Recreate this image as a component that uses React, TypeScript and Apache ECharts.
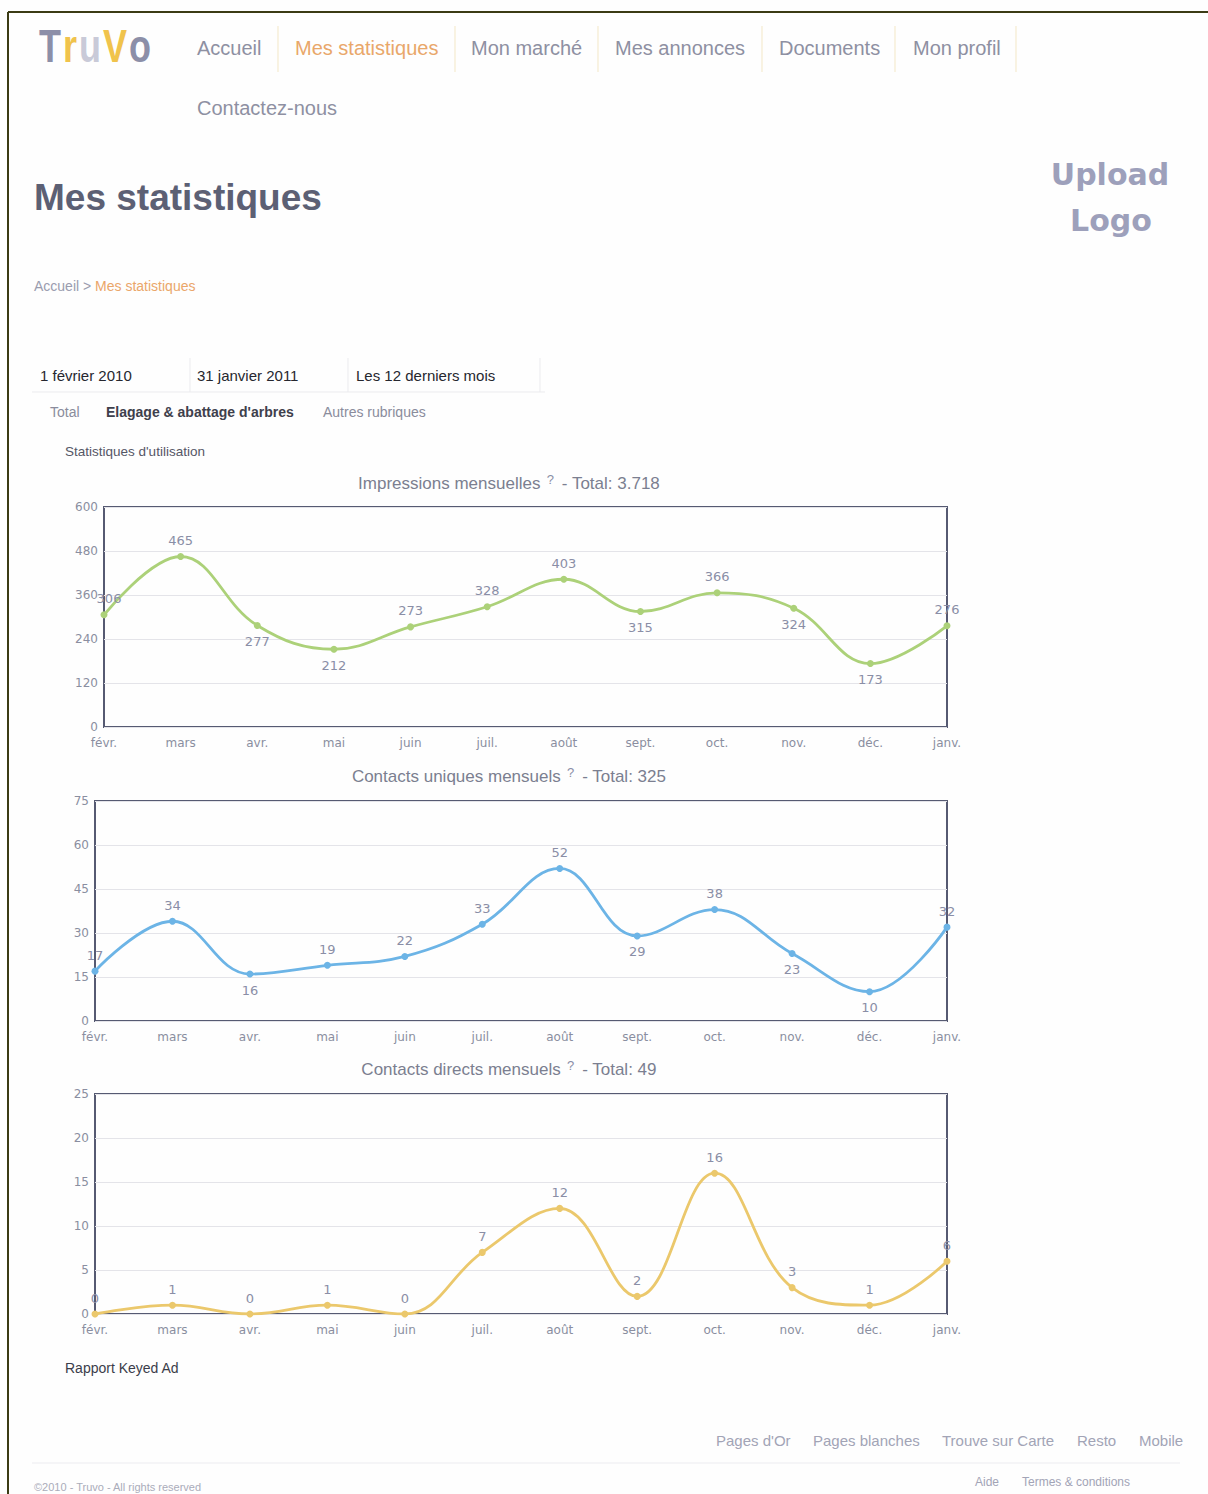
import React, { useEffect, useRef } from "react";
import * as echarts from "echarts";

// ---------- data ----------
const months = ["févr.", "mars", "avr.", "mai", "juin", "juil.", "août", "sept.", "oct.", "nov.", "déc.", "janv."];

const impressions = [306, 465, 277, 212, 273, 328, 403, 315, 366, 324, 173, 276];
const impressionsLabelPos = ["top", "top", "bottom", "bottom", "top", "top", "top", "bottom", "top", "bottom", "bottom", "top"];
const impressionsAxis = { max: 600, interval: 120 };

const uniqueContacts = [17, 34, 16, 19, 22, 33, 52, 29, 38, 23, 10, 32];
const uniqueLabelPos = ["top", "top", "bottom", "top", "top", "top", "top", "bottom", "top", "bottom", "bottom", "top"];
const uniqueAxis = { max: 75, interval: 15 };

const directContacts = [0, 1, 0, 1, 0, 7, 12, 2, 16, 3, 1, 6];
const directLabelPos = ["top", "top", "top", "top", "top", "top", "top", "top", "top", "top", "top", "top"];
const directAxis = { max: 25, interval: 5 };

const chartTitles = ["Impressions mensuelles", "Contacts uniques mensuels", "Contacts directs mensuels"];

const navItems = ["Accueil", "Mes statistiques", "Mon marché", "Mes annonces", "Documents", "Mon profil"];
const dateCells = ["1 février 2010", "31 janvier 2011", "Les 12 derniers mois"];
const footerLinks = ["Pages d'Or", "Pages blanches", "Trouve sur Carte", "Resto", "Mobile"];

// ---------- helpers ----------
const SANS = "'Liberation Sans', Arial, sans-serif";
const DEJAVU = "'DejaVu Sans', Verdana, sans-serif";

function formatTotal(arr: number[]) {
  const s = String(arr.reduce((a, b) => a + b, 0));
  return s.replace(/\B(?=(\d{3})+(?!\d))/g, ".");
}

function txt(x: number, y: number, text: string, style: any = {}, extra: any = {}) {
  return {
    type: "text",
    x,
    y,
    silent: true,
    ...extra,
    style: {
      text,
      fontFamily: SANS,
      fontSize: 14,
      fill: "#8a8c9c",
      verticalAlign: "middle",
      ...style,
    },
  };
}

function line(x1: number, y1: number, x2: number, y2: number, stroke: string, lineWidth = 1) {
  return { type: "line", silent: true, shape: { x1, y1, x2, y2 }, style: { stroke, lineWidth } };
}

const grids = [
  { left: 104, top: 507, width: 843, height: 220 },
  { left: 95, top: 801, width: 852, height: 220 },
  { left: 95, top: 1094, width: 852, height: 220 },
];
const titleY = [483, 776, 1069];
const seriesDefs = [
  { data: impressions, pos: impressionsLabelPos, axis: impressionsAxis, color: "#acd179" },
  { data: uniqueContacts, pos: uniqueLabelPos, axis: uniqueAxis, color: "#6cb4e6" },
  { data: directContacts, pos: directLabelPos, axis: directAxis, color: "#ebc86c" },
];

export default function App() {
  const ref = useRef<HTMLDivElement>(null);

  useEffect(() => {
    if (!ref.current) return;
    const chart = echarts.init(ref.current, undefined, { renderer: "svg" });

    const graphics: any[] = [];
    // page border
    graphics.push(line(8, 12, 1208, 12, "#3b3b14", 2));
    graphics.push(line(8, 12, 8, 1494, "#3b3b14", 2));

    // logo
    const logoLetters = [
      { c: "T", x: 50, col: "#8c8fa8" },
      { c: "r", x: 70, col: "#f0c34c" },
      { c: "u", x: 90, col: "#c9cad8" },
      { c: "V", x: 115, col: "#f0c34c" },
      { c: "o", x: 140, col: "#8c8fa8" },
    ];
    logoLetters.forEach((l) =>
      graphics.push(
        txt(l.x, 46, l.c, { fontSize: 36, fontWeight: "bold", fill: l.col, align: "center" }, { scaleY: 1.3 })
      )
    );

    // nav
    const navX = [197, 295, 471, 615, 779, 913];
    navItems.forEach((n, i) =>
      graphics.push(txt(navX[i], 48, n, { fontSize: 20, fill: i === 1 ? "#e9a76a" : "#8e90a2" }))
    );
    [278, 455, 598, 762, 895, 1016].forEach((x) => graphics.push(line(x, 26, x, 72, "#f3e7c6", 1)));
    graphics.push(txt(197, 108, "Contactez-nous", { fontSize: 20, fill: "#8e90a2" }));

    // heading
    graphics.push(txt(34, 197, "Mes statistiques", { fontSize: 37, fontWeight: "bold", fill: "#5c6074" }));
    graphics.push(
      txt(1110, 174, "Upload", { fontSize: 30, fontWeight: "bold", fill: "#9da0bb", fontFamily: DEJAVU, align: "center" })
    );
    graphics.push(
      txt(1111, 220, "Logo", { fontSize: 30, fontWeight: "bold", fill: "#9da0bb", fontFamily: DEJAVU, align: "center" })
    );

    // breadcrumb
    graphics.push({
      type: "text",
      x: 34,
      y: 286,
      silent: true,
      style: {
        text: "{a|Accueil > }{b|Mes statistiques}",
        verticalAlign: "middle",
        rich: {
          a: { fontFamily: SANS, fontSize: 14, fill: "#9a9cae", color: "#9a9cae" },
          b: { fontFamily: SANS, fontSize: 14, fill: "#eaa66a", color: "#eaa66a" },
        },
      },
    });

    // date row
    const dateX = [40, 197, 356];
    dateCells.forEach((d, i) => graphics.push(txt(dateX[i], 375, d, { fontSize: 15, fill: "#26272f" })));
    [190, 348, 540].forEach((x) => graphics.push(line(x, 358, x, 392, "#ebebee", 1)));
    graphics.push(line(32, 392, 545, 392, "#ebebee", 1));

    // tabs
    graphics.push(txt(50, 412, "Total", { fontSize: 14, fill: "#8a8c9c" }));
    graphics.push(txt(106, 412, "Elagage & abattage d'arbres", { fontSize: 14, fontWeight: "bold", fill: "#3e404c" }));
    graphics.push(txt(323, 412, "Autres rubriques", { fontSize: 14, fill: "#8a8c9c" }));
    graphics.push(txt(65, 451, "Statistiques d'utilisation", { fontSize: 13.5, fill: "#555766" }));

    // chart titles
    chartTitles.forEach((t, i) => {
      graphics.push({
        type: "text",
        x: 509,
        y: titleY[i],
        silent: true,
        style: {
          text: `{t|${t}} {q|?}{t| - Total: ${formatTotal(seriesDefs[i].data)}}`,
          align: "center",
          verticalAlign: "middle",
          rich: {
            t: { fontFamily: SANS, fontSize: 17, fill: "#7b7f90", color: "#7b7f90" },
            q: { fontFamily: SANS, fontSize: 13, fill: "#8a8ea6", color: "#8a8ea6", padding: [0, 3, 7, 3] },
          },
        },
      });
    });

    graphics.push(txt(65, 1368, "Rapport Keyed Ad", { fontSize: 14, fill: "#3b3d4a" }));

    // footer
    const footX = [716, 813, 942, 1077, 1139];
    footerLinks.forEach((f, i) => graphics.push(txt(footX[i], 1440, f, { fontSize: 15, fill: "#a2a4b6" })));
    graphics.push(line(32, 1463, 1180, 1463, "#ececf0", 1));
    graphics.push(txt(34, 1487, "©2010 - Truvo - All rights reserved", { fontSize: 11, fill: "#aaacba" }));
    graphics.push(txt(975, 1482, "Aide", { fontSize: 12, fill: "#a2a4b6" }));
    graphics.push(txt(1022, 1482, "Termes & conditions", { fontSize: 12, fill: "#a2a4b6" }));

    const option: any = {
      animation: false,
      backgroundColor: "#fefefe",
      textStyle: { fontFamily: DEJAVU },
      grid: grids.map((g) => ({
        ...g,
        show: true,
        borderColor: "#565a72",
        borderWidth: 2,
        backgroundColor: "transparent",
        containLabel: false,
      })),
      xAxis: grids.map((_, i) => ({
        type: "category",
        gridIndex: i,
        data: months,
        boundaryGap: false,
        axisLine: { show: false },
        axisTick: { show: false },
        splitLine: { show: false },
        axisLabel: { color: "#8a8ea0", fontSize: 12, margin: 10, fontFamily: DEJAVU, interval: 0 },
      })),
      yAxis: seriesDefs.map((s, i) => ({
        type: "value",
        gridIndex: i,
        min: 0,
        max: s.axis.max,
        interval: s.axis.interval,
        axisLine: { show: false },
        axisTick: { show: false },
        splitLine: { show: true, lineStyle: { color: "#e4e4e9", width: 1 } },
        axisLabel: { color: "#8a8ea0", fontSize: 12, margin: 6, fontFamily: DEJAVU },
      })),
      series: seriesDefs.map((s, i) => ({
        type: "line",
        xAxisIndex: i,
        yAxisIndex: i,
        smooth: 0.4,
        symbol: "circle",
        symbolSize: 7,
        lineStyle: { color: s.color, width: 2.8 },
        itemStyle: { color: s.color },
        data: s.data.map((v, j) => ({
          value: v,
          label: { position: s.pos[j], offset: i === 0 && j === 0 ? [5, 0] : [0, 0] },
        })),
        label: {
          show: true,
          color: "#8a8ea6",
          fontSize: 13,
          fontFamily: DEJAVU,
          distance: 6,
        },
      })),
      graphic: graphics,
    };

    chart.setOption(option);
    return () => chart.dispose();
  }, []);

  return (
    <div
      ref={ref}
      style={{ position: "absolute", left: 0, top: 0, width: 1208, height: 1494, background: "#fefefe" }}
    />
  );
}
